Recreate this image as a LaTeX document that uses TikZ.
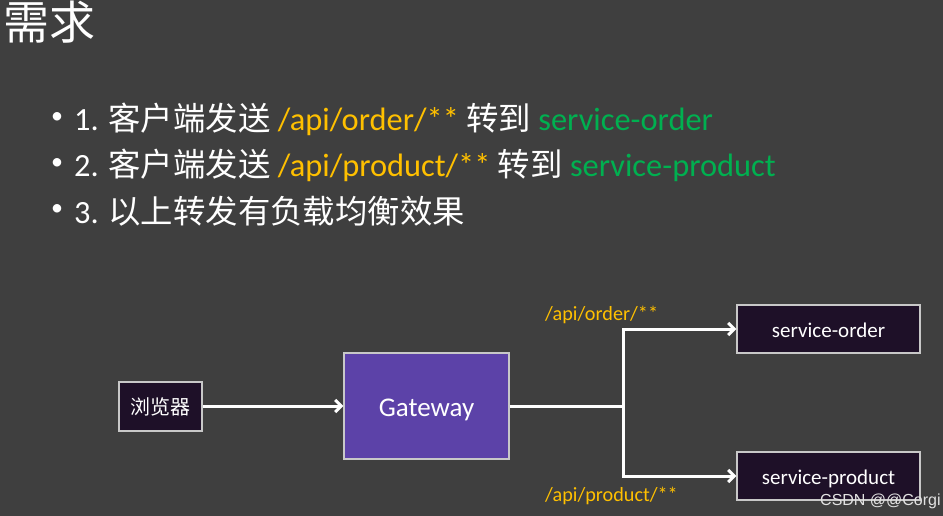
\documentclass[tikz,border=0pt]{standalone}
\usepackage{fontspec}
\setmainfont{Carlito}
\newfontfamily\cjk{Noto Sans CJK SC}
\newfontfamily\wmfont{Liberation Sans}
\usetikzlibrary{arrows.meta}
\definecolor{bg}{HTML}{3F3F3F}
\definecolor{darkbox}{HTML}{1E1028}
\definecolor{gwbox}{HTML}{5C42A8}
\definecolor{boxline}{HTML}{C8C8C8}
\definecolor{path}{HTML}{FFC000}
\definecolor{svc}{HTML}{00B050}
\tikzset{
  txt/.style={anchor=base west, inner sep=0pt, text=white},
  bullettxt/.style={txt, font=\fontsize{32.4}{38}\selectfont},
  bulletdot/.style={anchor=center, inner sep=0pt, text=white, font=\fontsize{24}{28}\selectfont},
  dbox/.style={draw=boxline, line width=1.3pt, fill=darkbox, text=white, inner sep=0pt},
  gbox/.style={draw=boxline, line width=1.3pt, fill=gwbox, text=white, inner sep=0pt},
  conn/.style={draw=white, line width=3pt, -{Straight Barb[length=6pt,width=12pt,line width=3pt]}},
  plain/.style={draw=white, line width=3pt},
  lbl/.style={anchor=base west, inner sep=0pt, text=path, font=\fontsize{20.2}{24}\selectfont}
}
\newcommand{\lowered}[2]{\makebox[0pt]{\raisebox{-#1}[0pt][0pt]{#2}}}
\begin{document}
\begin{tikzpicture}[x=1pt,y=-1pt]
\fill[bg] (0,0) rectangle (943,516);
\useasboundingbox (0,0) rectangle (943,516);

\node[txt, font=\fontsize{46}{50}\selectfont\cjk] (title) at (3,40) {需求};

\node[bulletdot] (b1) at (57,118) {•};
\node[bullettxt] (t1) at (74,131) {1. {\cjk 客户端发送} \textcolor{path}{/api/order/**} {\cjk 转到} \textcolor{svc}{service-order}};
\node[bulletdot] (b2) at (57,164) {•};
\node[bullettxt] (t2) at (74,177) {2. {\cjk 客户端发送} \textcolor{path}{/api/product/**} {\cjk 转到} \textcolor{svc}{service-product}};
\node[bulletdot] (b3) at (57,210) {•};
\node[bullettxt] (t3) at (74,223) {3. {\cjk 以上转发有负载均衡效果}};

\node[dbox, minimum width=83pt, minimum height=49pt, font=\fontsize{20}{24}\selectfont\cjk] (br) at (160.5,406.5) {浏览器};
\node[gbox, minimum width=165pt, minimum height=106pt, font=\fontsize{27}{32}\selectfont] (gw) at (426.5,406) {\lowered{10pt}{Gateway}};
\node[dbox, minimum width=183pt, minimum height=48pt, font=\fontsize{21}{25}\selectfont] (so) at (828.5,329) {\lowered{8pt}{service-order}};
\node[dbox, minimum width=183pt, minimum height=48pt, font=\fontsize{21}{25}\selectfont] (sp) at (828.5,476) {\lowered{8pt}{service-product}};

\coordinate (j) at (623,406);
\draw[conn] (br.east |- 0,406) -- (gw.west |- 0,406);
\draw[plain] (gw.east) -- (j);
\draw[conn] (j) |- (so);
\draw[conn] (j) |- (sp);

\node[lbl] (l1) at (545,320) {/api/order/**};
\node[lbl] (l2) at (545,501) {/api/product/**};

\node[anchor=base west, inner sep=0pt, text=white!85!bg, font=\fontsize{16}{19}\selectfont\wmfont] (wm) at (820,505) {CSDN @@Corgi};
\end{tikzpicture}
\end{document}
